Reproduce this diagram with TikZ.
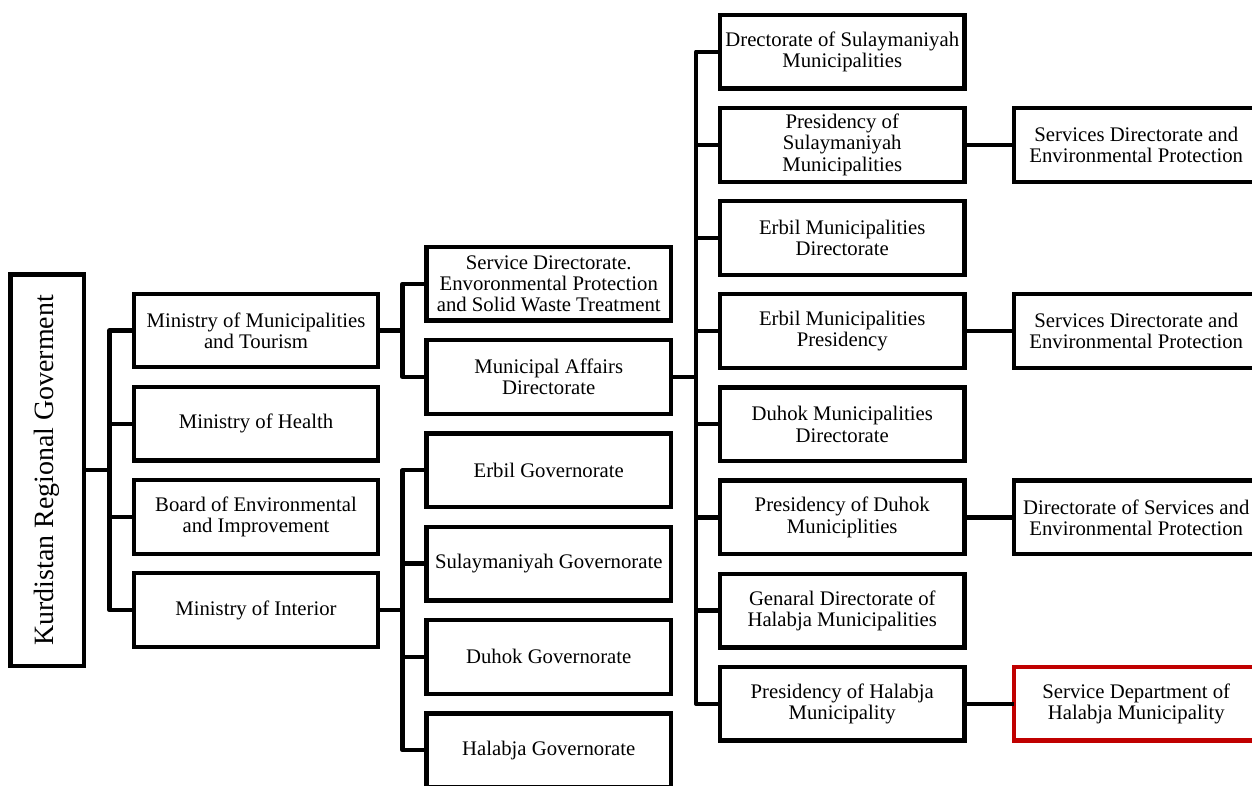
\documentclass[tikz,border=0pt]{standalone}
\usepackage{fontspec}
\setmainfont{Liberation Serif}
\definecolor{markred}{RGB}{192,0,0}

\begin{document}
\begin{tikzpicture}[x=0.02cm, y=-0.02cm,
    unit/.style={draw, line width=0.086cm, inner sep=0pt, outer sep=0pt, align=center,
        minimum width=4.89cm, minimum height=1.474cm, font=\fontsize{11.8}{12.1}\selectfont},
    link/.style={line width=0.086cm, line join=round}]
    \useasboundingbox (0,0) rectangle (1252,786);
    % root (text reads upwards)
    \node[unit, rotate=90, minimum width=7.83cm, minimum height=1.47cm, font=\fontsize{15.9}{17}\selectfont] (krg) at (47.25,470.25) {Kurdistan Regional Goverment};
    % ministries
    \node[unit] (mmt) at (256,330.5) {Ministry of Municipalities\\and Tourism};
    \node[unit] (moh) at (256,423.7) {Ministry of Health};
    \node[unit] (bei) at (256,516.9) {Board of Environmental\\and Improvement};
    \node[unit] (moi) at (256,610.1) {Ministry of Interior};
    % directorates and governorates
    \node[unit] (sdt) at (548.75,283.7) {Service Directorate.\\Envoronmental Protection\\and Solid Waste Treatment};
    \node[unit] (mad) at (548.75,377) {Municipal Affairs\\Directorate};
    \node[unit] (ebg) at (548.75,470.3) {Erbil Governorate};
    \node[unit] (slg) at (548.75,563.6) {Sulaymaniyah Governorate};
    \node[unit] (dhg) at (548.75,656.9) {Duhok Governorate};
    \node[unit] (hjg) at (548.75,750.2) {Halabja Governorate};
    % municipalities
    \node[unit] (dsm) at (842.25,51.7) {Drectorate of Sulaymaniyah\\Municipalities};
    \node[unit] (psm) at (842.25,144.85) {Presidency of\\Sulaymaniyah\\Municipalities};
    \node[unit] (emd) at (842.25,238) {Erbil Municipalities\\Directorate};
    \node[unit] (emp) at (842.25,331.15) {Erbil Municipalities\\Presidency};
    \node[unit] (dmd) at (842.25,424.3) {Duhok Municipalities\\Directorate};
    \node[unit] (pdm) at (842.25,517.45) {Presidency of Duhok\\Municiplities};
    \node[unit] (ghm) at (842.25,610.6) {Genaral Directorate of\\Halabja Municipalities};
    \node[unit] (phm) at (842.25,703.75) {Presidency of Halabja\\Municipality};
    % service departments
    \node[unit] (ssv) at (1136.25,144.85) {Services Directorate and\\Environmental Protection};
    \node[unit] (esv) at (1136.25,331.15) {Services Directorate and\\Environmental Protection};
    \node[unit] (dsv) at (1136.25,517.45) {Directorate of Services and\\Environmental Protection};
    \node[unit, draw=markred] (hsd) at (1136.25,703.75) {Service Department of\\Halabja Municipality};

    \coordinate (krgbus) at (109.5,470.25);
    \draw[link] (krg.south) -- (krgbus);
    \draw[link] (mmt.west) -| (krgbus) |- (moi.west);
    \draw[link] (moh.west) -- (moh.west -| krgbus);
    \draw[link] (bei.west) -- (bei.west -| krgbus);

    \coordinate (mmtbus) at (402.5,330.5);
    \draw[link] (mmt.east) -- (mmtbus);
    \draw[link] (sdt.west) -| (mmtbus) |- (mad.west);

    \coordinate (moibus) at (402.5,610.1);
    \draw[link] (moi.east) -- (moibus);
    \draw[link] (ebg.west) -| (moibus) |- (hjg.west);
    \draw[link] (slg.west) -- (slg.west -| moibus);
    \draw[link] (dhg.west) -- (dhg.west -| moibus);

    \coordinate (madbus) at (696,377);
    \draw[link] (mad.east) -- (madbus);
    \draw[link] (dsm.west) -| (madbus) |- (phm.west);
    \draw[link] (psm.west) -- (psm.west -| madbus);
    \draw[link] (emd.west) -- (emd.west -| madbus);
    \draw[link] (emp.west) -- (emp.west -| madbus);
    \draw[link] (dmd.west) -- (dmd.west -| madbus);
    \draw[link] (pdm.west) -- (pdm.west -| madbus);
    \draw[link] (ghm.west) -- (ghm.west -| madbus);

    \draw[link] (psm.east) -- (ssv.west);
    \draw[link] (emp.east) -- (esv.west);
    \draw[link] (pdm.east) -- (dsv.west);
    \draw[link] (phm.east) -- (hsd.west);
\end{tikzpicture}
\end{document}
